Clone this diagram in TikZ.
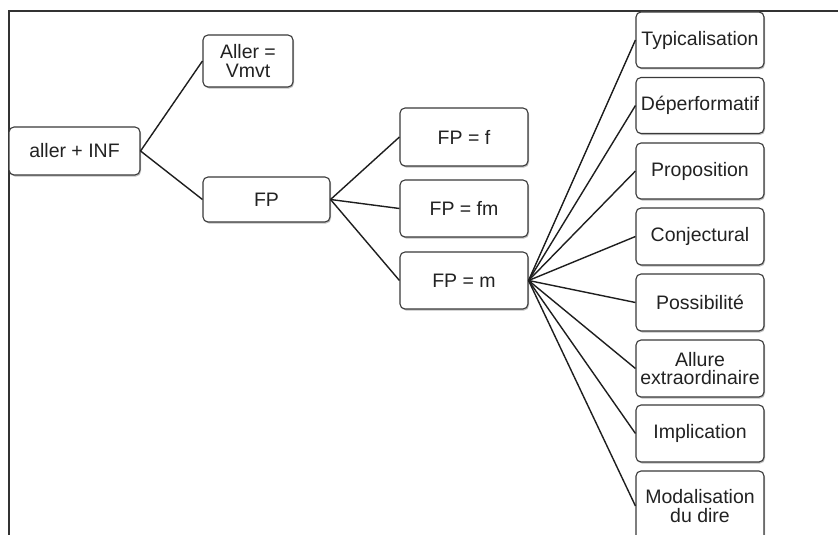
\documentclass[tikz,border=0pt]{standalone}
\usepackage{fontspec}
\setmainfont{Liberation Sans}
\usetikzlibrary{shadows}
\definecolor{boxline}{HTML}{3A3A3A}
\definecolor{conn}{HTML}{1E1E1E}
\definecolor{txt}{HTML}{222222}
\tikzset{
  box/.style={draw=boxline, line width=1.1pt, rounded corners=5pt, fill=white,
    inner sep=0pt, align=center, text=txt,
    font=\fontsize{19.5}{18.5}\selectfont,
    drop shadow={shadow xshift=1pt, shadow yshift=-1.5pt, opacity=0.25, fill=black}},
  conn/.style={draw=conn, line width=1.4pt},
  frame/.style={draw=black!80, line width=1.2pt}
}
\begin{document}
\begin{tikzpicture}[x=1pt, y=-1pt]
\useasboundingbox (0,0) rectangle (838,535);
\clip (0,0) rectangle (838,535);
\fill[white] (0,0) rectangle (838,535);
\draw[frame] (9,535) -- (9,11) -- (838,11);

% left part
\node[box, minimum width=131pt, minimum height=48pt] (root) at (74.5,151) {aller + INF};
\node[box, minimum width=90pt, minimum height=52pt] (vmvt) at (248,61) {Aller =\\Vmvt};
\node[box, minimum width=127pt, minimum height=45pt] (fp) at (266.5,199.5) {FP};

% middle
\node[box, minimum width=128pt, minimum height=58pt] (fpf) at (464,137) {FP = f};
\node[box, minimum width=128pt, minimum height=57pt] (fpfm) at (464,208.5) {FP = fm};
\node[box, minimum width=128pt, minimum height=57pt] (fpm) at (464,280.5) {FP = m};

% right column
\node[box, minimum width=128pt, minimum height=56pt] (r1) at (700,40) {Typicalisation};
\node[box, minimum width=128pt, minimum height=56pt] (r2) at (700,105.5) {Déperformatif};
\node[box, minimum width=128pt, minimum height=56pt] (r3) at (700,171) {Proposition};
\node[box, minimum width=128pt, minimum height=57pt] (r4) at (700,236.5) {Conjectural};
\node[box, minimum width=128pt, minimum height=57pt] (r5) at (700,302.5) {Possibilité};
\node[box, minimum width=128pt, minimum height=57pt] (r6) at (700,368.5) {Allure\\extraordinaire};
\node[box, minimum width=128pt, minimum height=57pt] (r7) at (700,433.5) {Implication};
\node[box, minimum width=128pt, minimum height=70pt] (r8) at (700,506) {Modalisation\\du dire};

% connectors
\draw[conn] (root.east) -- (vmvt.west);
\draw[conn] (root.east) -- (fp.west);
\draw[conn] (fp.east) -- (fpf.west);
\draw[conn] (fp.east) -- (fpfm.west);
\draw[conn] (fp.east) -- (fpm.west);
\foreach \n in {r1,r2,r3,r4,r5,r6,r7,r8}
  \draw[conn] (fpm.east) -- (\n.west);
\end{tikzpicture}
\end{document}
